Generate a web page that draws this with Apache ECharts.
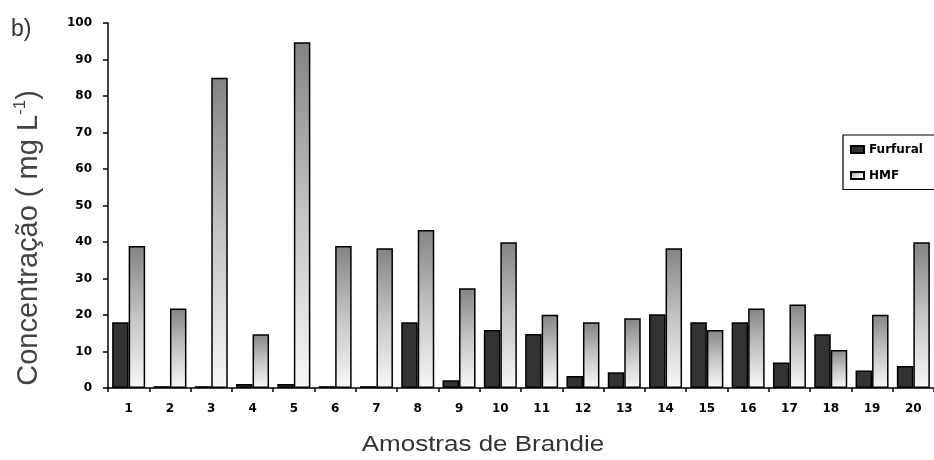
<!DOCTYPE html>
<html>
<head>
<meta charset="utf-8">
<script src="https://cdn.jsdelivr.net/npm/echarts@6/dist/echarts.min.js"></script>
<style>
html,body{margin:0;padding:0;background:#fff;}
#c{width:934px;height:460px;}
</style>
</head>
<body>
<div id="c"></div>
<script>
var categories = ['1','2','3','4','5','6','7','8','9','10','11','12','13','14','15','16','17','18','19','20'];
var furfural = [18, 0.5, 0.5, 1.1, 1.1, 0.5, 0.5, 18, 2.1, 15.9, 14.8, 3.3, 4.3, 20.2, 18, 18, 7, 14.7, 4.8, 6];
var hmf = [38.9, 21.8, 85, 14.7, 94.7, 38.9, 38.3, 43.3, 27.3, 39.9, 20.1, 18, 19.1, 38.3, 15.9, 21.8, 22.9, 10.4, 20.1, 39.9];
var yTicks = {min: 0, max: 100, interval: 10};

var tickFont = {fontFamily: 'DejaVu Sans', fontWeight: 'bold', fontSize: 12, color: '#000'};

var chart = echarts.init(document.getElementById('c'), null, {renderer: 'canvas'});
chart.setOption({
  backgroundColor: '#fff',
  animation: false,
  grid: {left: 108, top: 23, width: 828, bottom: 72},
  legend: {
    orient: 'vertical',
    left: 843, top: 135,
    padding: [8.5, 34, 8, 7],
    itemWidth: 13, itemHeight: 7, itemGap: 14,
    borderColor: '#000', borderWidth: 1.2,
    icon: 'rect',
    textStyle: {fontFamily: 'DejaVu Sans', fontWeight: 'bold', fontSize: 12, color: '#000'},
    data: ['Furfural', 'HMF']
  },
  xAxis: {
    type: 'category',
    data: categories,
    axisLine: {lineStyle: {color: '#000', width: 1.5}},
    axisTick: {show: true, alignWithLabel: false, length: 4, lineStyle: {color: '#000', width: 1.5}},
    axisLabel: Object.assign({margin: 15}, tickFont),
    splitLine: {show: false}
  },
  yAxis: {
    type: 'value',
    min: yTicks.min, max: yTicks.max, interval: yTicks.interval,
    axisLine: {show: true, lineStyle: {color: '#000', width: 1.5}},
    axisTick: {show: true, length: 5, lineStyle: {color: '#000', width: 1.5}},
    axisLabel: Object.assign({margin: 16}, tickFont),
    splitLine: {show: false}
  },
  series: [
    {
      name: 'Furfural', type: 'bar', data: furfural,
      barWidth: 16.5, barGap: '0%',
      itemStyle: {color: '#333333', borderColor: '#000', borderWidth: 1.5}
    },
    {
      name: 'HMF', type: 'bar', data: hmf,
      barWidth: 16.5, barGap: '0%',
      itemStyle: {
        color: new echarts.graphic.LinearGradient(0, 0, 0.35, 1, [
          {offset: 0, color: '#838383'},
          {offset: 0.5, color: '#c4c4c4'},
          {offset: 1, color: '#f7f7f7'}
        ]),
        borderColor: '#000', borderWidth: 1.5
      }
    }
  ],
  graphic: [
    {
      type: 'text', left: 11, top: 18,
      style: {text: 'b)', fontFamily: 'Liberation Sans', fontSize: 23, fill: '#333'}
    },
    {
      type: 'text', x: 483, y: 445, scaleX: 1.18,
      style: {text: 'Amostras de Brandie', fontFamily: 'Liberation Sans', fontSize: 22, fill: '#333',
              align: 'center', verticalAlign: 'middle'}
    },
    {
      type: 'text', x: 29, y: 238, rotation: Math.PI / 2,
      style: {
        text: 'Concentração ( mg L{sup|-1})',
        fontFamily: 'Liberation Sans', fontSize: 29, fill: '#444',
        align: 'center', verticalAlign: 'middle',
        rich: {sup: {fontFamily: 'Liberation Sans', fontSize: 17, fill: '#444', verticalAlign: 'top', lineHeight: 34}}
      }
    }
  ]
});
</script>
</body>
</html>
